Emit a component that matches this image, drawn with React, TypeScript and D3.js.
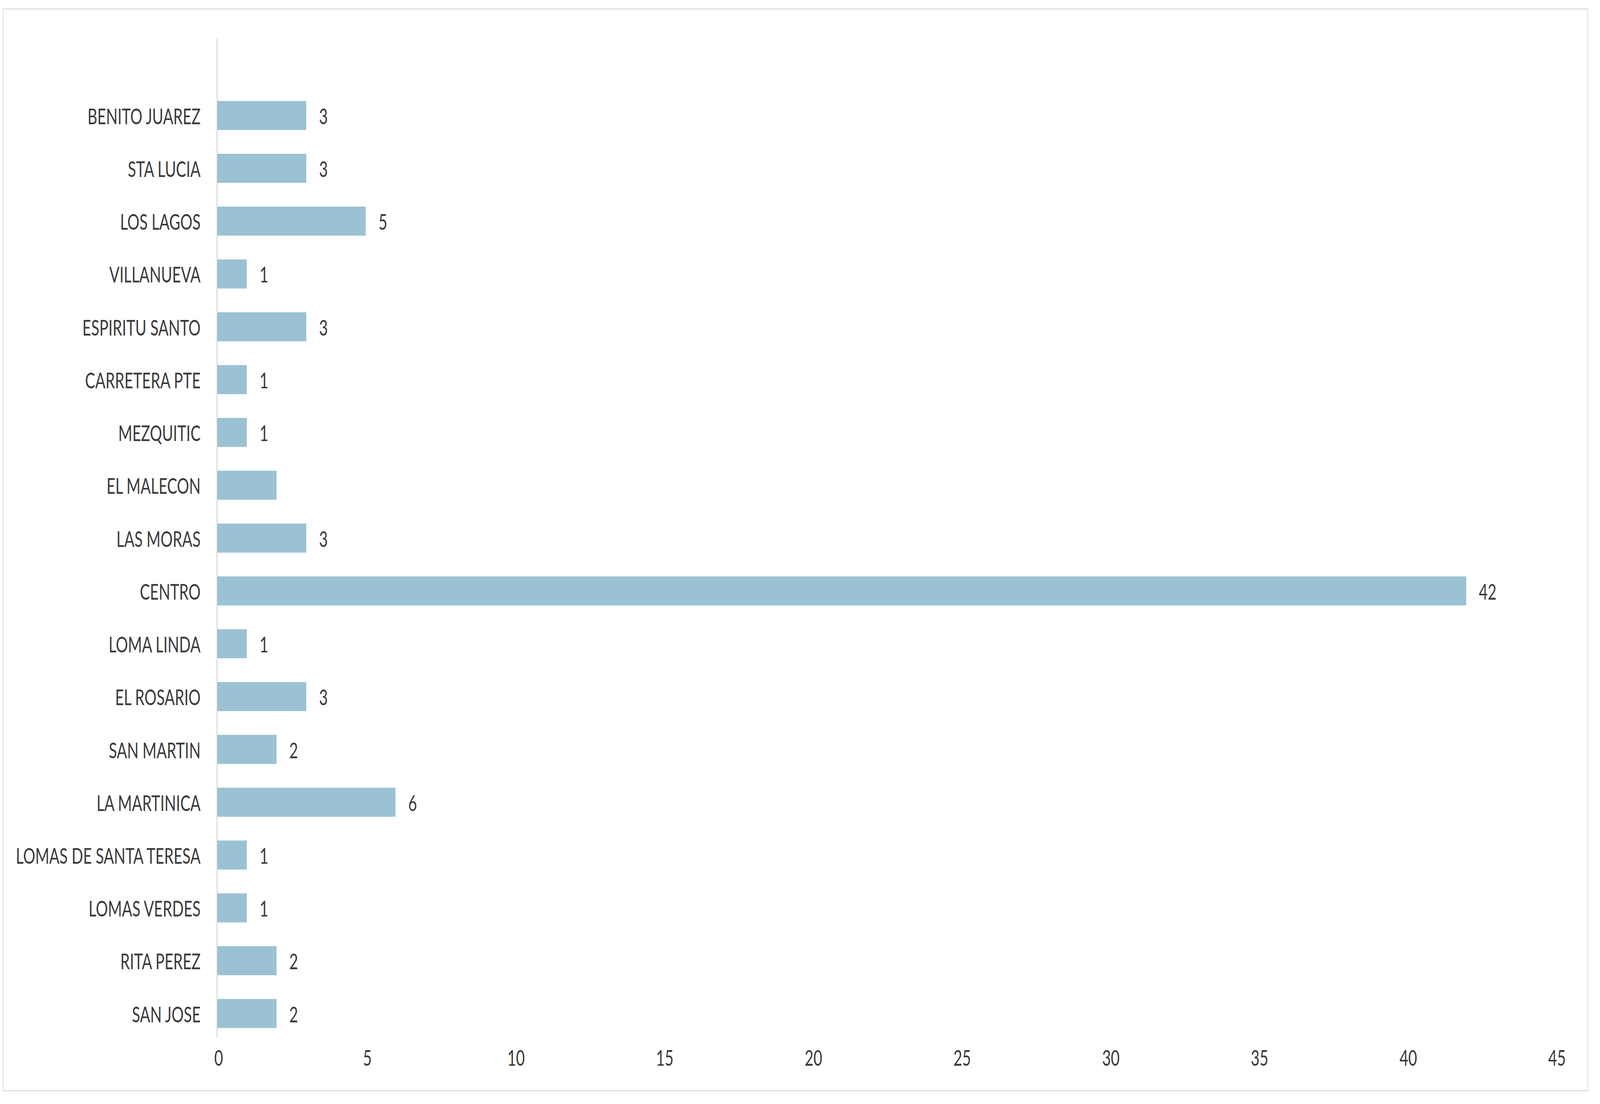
import React, { useEffect } from "react";
import * as d3 from "d3";

const categories = [
  "BENITO JUAREZ", "STA LUCIA", "LOS LAGOS", "VILLANUEVA", "ESPIRITU SANTO",
  "CARRETERA PTE", "MEZQUITIC", "EL MALECON", "LAS MORAS", "CENTRO",
  "LOMA LINDA", "EL ROSARIO", "SAN MARTIN", "LA MARTINICA",
  "LOMAS DE SANTA TERESA", "LOMAS VERDES", "RITA PEREZ", "SAN JOSE",
];
const values = [3, 3, 5, 1, 3, 1, 1, 2, 3, 42, 1, 3, 2, 6, 1, 1, 2, 2];
const showLabel = [true, true, true, true, true, true, true, false, true, true, true, true, true, true, true, true, true, true];
const xTicks = [0, 5, 10, 15, 20, 25, 30, 35, 40, 45];

const W = 6030;
const H = 2826;
const FONT = "Lato, 'Open Sans', sans-serif";

export default function App() {
  useEffect(() => {
    document.body.style.margin = "0";
  }, []);
  const x = d3.scaleLinear().domain([0, 45]).range([818, 5862]);
  const y = d3
    .scaleBand<string>()
    .domain(categories)
    .range([228, 2662])
    .paddingInner(0.45)
    .paddingOuter(0.225);

  return (
    <svg
      viewBox={`0 0 ${W} ${H}`}
      preserveAspectRatio="none"
      style={{ position: "fixed", left: 0, top: 0, width: "100vw", height: "100vh", background: "#fff" }}
    >
      <rect x={0} y={0} width={W} height={H} fill="#ffffff" />
      <rect x={12} y={23} width={5972} height={2769} fill="none" stroke="#dcdcdc" strokeWidth={3} />
      {categories.map((c, i) => (
        <g key={c}>
          <rect
            x={x(0)}
            y={y(c)!}
            width={x(values[i]) - x(0)}
            height={y.bandwidth()}
            fill="#9bc2d3"
          />
          <text
            x={x(0) - 62}
            y={y(c)! + y.bandwidth() / 2}
            textAnchor="end"
            dominantBaseline="central"
            fontFamily={FONT}
            fontSize={57}
            fill="#3a3a3a"
          >
            {c}
          </text>
          {showLabel[i] && (
            <text
              x={x(values[i]) + 48}
              y={y(c)! + y.bandwidth() / 2}
              dominantBaseline="central"
              fontFamily={FONT}
              fontSize={57}
              fill="#3a3a3a"
            >
              {values[i]}
            </text>
          )}
        </g>
      ))}
      <line x1={x(0)} x2={x(0)} y1={98} y2={2655} stroke="#d0d0d0" strokeWidth={3} />
      {xTicks.map((t) => (
        <text
          key={t}
          x={x(t) + 6}
          y={2706}
          textAnchor="middle"
          dominantBaseline="central"
          fontFamily={FONT}
          fontSize={57}
          fill="#3a3a3a"
        >
          {t}
        </text>
      ))}
    </svg>
  );
}
